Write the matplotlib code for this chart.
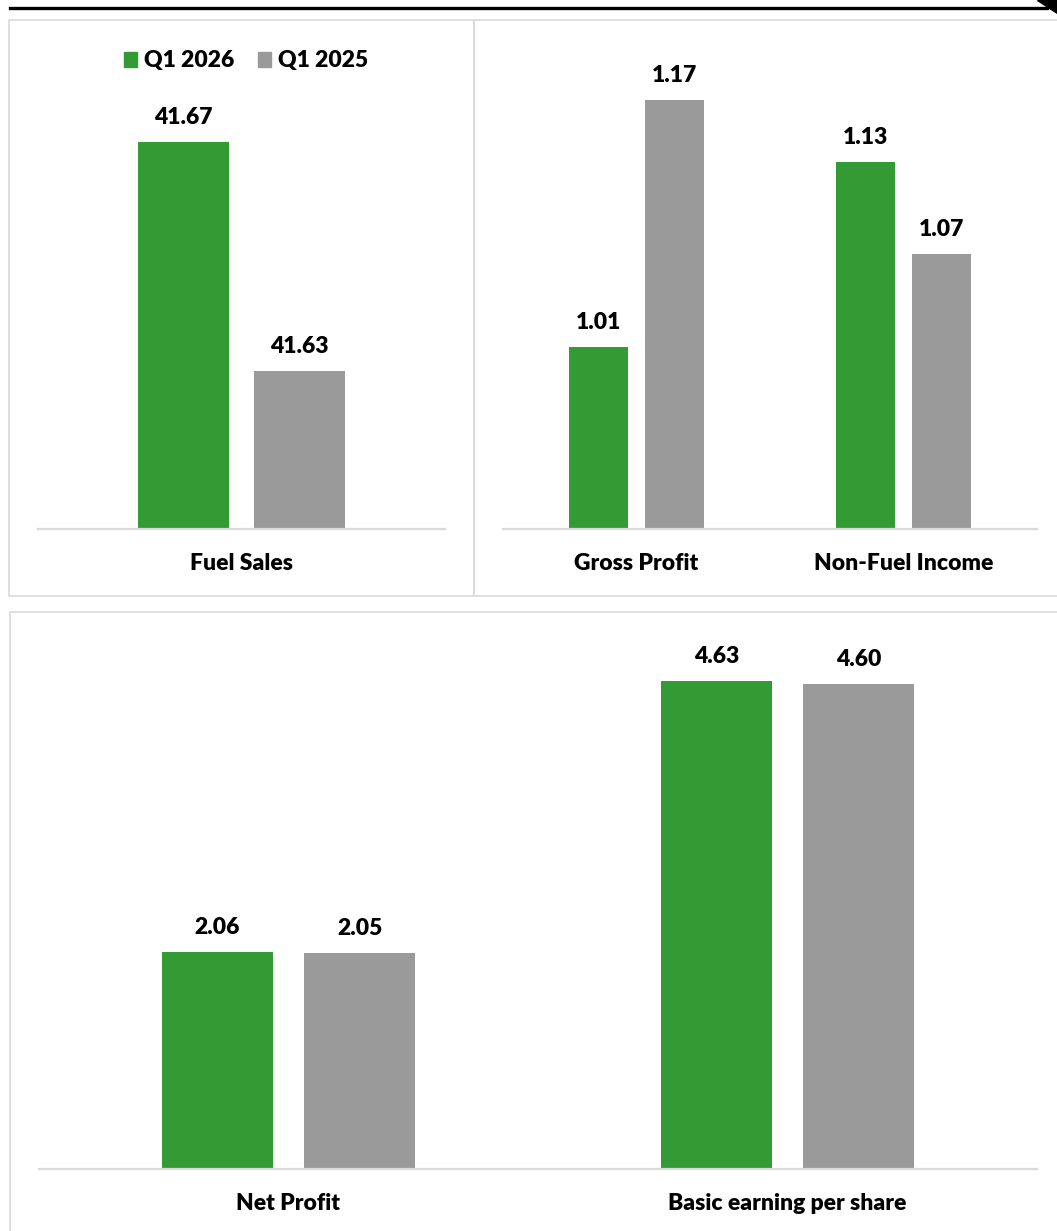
import matplotlib.pyplot as plt
from matplotlib.patches import Patch, Rectangle, Polygon
from matplotlib.lines import Line2D

# data
series = ['Q1 2026', 'Q1 2025']
colors = ['#339a34', '#9a9a9a']

cats1 = ['Fuel Sales']
q26_1 = [41.67]
q25_1 = [41.63]

cats2 = ['Gross Profit', 'Non-Fuel Income']
q26_2 = [1.01, 1.13]
q25_2 = [1.17, 1.07]

cats3 = ['Net Profit', 'Basic earning per share']
q26_3 = [2.06, 4.63]
q25_3 = [2.05, 4.60]

plt.rcParams['font.family'] = ['Lato', 'DejaVu Sans']

W, H = 1057, 1231
fig = plt.figure(figsize=(W / 100, H / 100), dpi=100)
FS = 16.5
WT = 'heavy'


def box(x0, y0, x1, y1):
    # pixel box (top-left origin) -> figure fraction rect
    return [x0 / W, 1 - y1 / H, (x1 - x0) / W, (y1 - y0) / H]


def panel(rect, cats, a, b, ylim):
    ax = fig.add_axes(rect)
    x = range(len(cats))
    w = 0.224
    off = 0.1425
    for vals, c, s in [(a, colors[0], -off), (b, colors[1], off)]:
        bars = ax.bar([i + s for i in x], vals, width=w, color=c)
        for r, v in zip(bars, vals):
            ax.annotate(f'{v:.2f}', (r.get_x() + r.get_width() / 2, r.get_height()),
                        xytext=(0, 10), textcoords='offset points',
                        ha='center', va='bottom', fontsize=FS, fontweight=WT)
    ax.set_xlim(-0.5, len(cats) - 0.5)
    ax.set_ylim(*ylim)
    ax.set_xticks(list(x))
    ax.set_xticklabels(cats, fontsize=FS, fontweight=WT)
    ax.tick_params(axis='x', length=0, pad=17.5)
    ax.set_yticks([])
    for s in ['top', 'right', 'left']:
        ax.spines[s].set_visible(False)
    ax.spines['bottom'].set_color('#d9d9d9')
    ax.spines['bottom'].set_linewidth(1.6)
    ax.patch.set_alpha(0)
    return ax


ax1 = panel(box(38, 40, 445, 529), cats1, q26_1, q25_1, (41.6024, 41.6878))
ax2 = panel(box(503, 40, 1037, 529), cats2, q26_2, q25_2, (0.8916, 1.2091))
ax3 = panel(box(39, 640, 1037, 1169), cats3, q26_3, q25_3, (0, 5.014))

handles = [Patch(color=c, label=s) for c, s in zip(colors, series)]
leg = fig.legend(handles=handles, loc='center', bbox_to_anchor=(246 / W, 1 - 61 / H),
                 ncol=2, frameon=False, handlelength=0.6, handleheight=0.6,
                 handletextpad=0.3, columnspacing=1.0,
                 prop={'size': FS, 'weight': WT})

# panel frames
grey = '#d9d9d9'
for x0, y0, x1, y1 in [(9, 20, 474, 596), (474, 20, 1062, 596), (10, 612, 1062, 1236)]:
    fig.add_artist(Rectangle((x0 / W, 1 - y1 / H), (x1 - x0) / W, (y1 - y0) / H,
                             transform=fig.transFigure, fill=False,
                             edgecolor=grey, linewidth=1.2))

# top rule and corner mark
fig.add_artist(Line2D([10 / W, 1047 / W], [1 - 7.5 / H, 1 - 7.5 / H],
                      transform=fig.transFigure, color='black', linewidth=2.4))
fig.add_artist(Polygon([(1037 / W, 1), (1, 1), (1, 1 - 13 / H)],
                       transform=fig.transFigure, color='black'))

fig.savefig('out.png', dpi=100)
